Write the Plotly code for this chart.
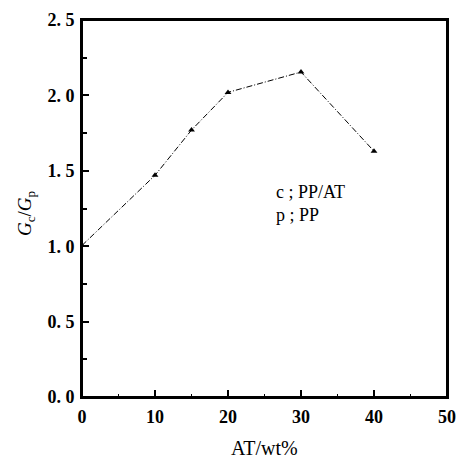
import plotly.graph_objects as go

at_wt = [0, 10, 15, 20, 30, 40]
gc_gp = [1.005, 1.47, 1.77, 2.02, 2.155, 1.63]

x_tick_vals = [0, 10, 20, 30, 40, 50]
x_tick_text = ["0", "10", "20", "30", "40", "50"]
y_tick_vals = [0.0, 0.5, 1.0, 1.5, 2.0, 2.5]
y_tick_text = ["0. 0", "0. 5", "1. 0", "1. 5", "2. 0", "2. 5"]

font_serif = "Liberation Serif, DejaVu Serif, serif"

fig = go.Figure()
fig.add_trace(go.Scatter(
    x=at_wt, y=gc_gp, mode="lines+markers",
    line=dict(color="black", width=1, dash="6px,2px,1px,2px"),
    marker=dict(symbol="triangle-up", size=6, color="black"),
    showlegend=False,
))

axis_common = dict(
    showline=True, linecolor="black", linewidth=2, mirror=True,
    ticks="inside", ticklen=7, tickwidth=2, tickcolor="black",
    showgrid=False, zeroline=False,
    tickfont=dict(family=font_serif, size=18, color="black", weight="bold"),
)

fig.update_xaxes(
    range=[0, 50], tickvals=x_tick_vals, ticktext=x_tick_text, ticklabelstandoff=2,
    minor=dict(dtick=5, ticks="inside", ticklen=3, tickwidth=1, tickcolor="black"),
    **axis_common,
)
fig.update_yaxes(
    range=[0, 2.5], tickvals=y_tick_vals, ticktext=y_tick_text, ticklabelstandoff=2,
    minor=dict(dtick=0.25, ticks="inside", ticklen=5, tickwidth=1.5, tickcolor="black"),
    **axis_common,
)

fig.add_shape(type="rect", xref="paper", yref="paper", x0=0, y0=0, x1=1, y1=1,
              line=dict(color="black", width=2), layer="above")

fig.add_annotation(
    x=0.5, y=-0.1345, xref="paper", yref="paper", showarrow=False,
    text="AT/wt%", font=dict(family=font_serif, size=20, color="black"),
    xanchor="center", yanchor="middle",
)
fig.add_annotation(
    x=-0.155, y=0.489, xref="paper", yref="paper", showarrow=False,
    text="<i>G</i><sub>c</sub>/<i>G</i><sub>p</sub>", textangle=-90,
    font=dict(family=font_serif, size=19, color="black"),
    xanchor="center", yanchor="middle",
)
fig.add_annotation(
    x=26.3, y=1.28, xref="x", yref="y", showarrow=False, align="left",
    text="c ; PP/AT<br>p ; PP",
    font=dict(family=font_serif, size=18, color="black"),
    xanchor="left", yanchor="middle",
)

fig.update_layout(
    width=466, height=462,
    margin=dict(l=82, r=11, t=10, b=65),
    paper_bgcolor="white", plot_bgcolor="white",
    font=dict(family=font_serif, color="black"),
)

fig.write_html("out.html", config={"displayModeBar": False})

with open("out.html", "r", encoding="utf-8") as f:
    html = f.read()
html = html.replace("<head>", "<head><style>html,body{margin:0;padding:0;overflow:hidden;}</style>", 1)
with open("out.html", "w", encoding="utf-8") as f:
    f.write(html)
